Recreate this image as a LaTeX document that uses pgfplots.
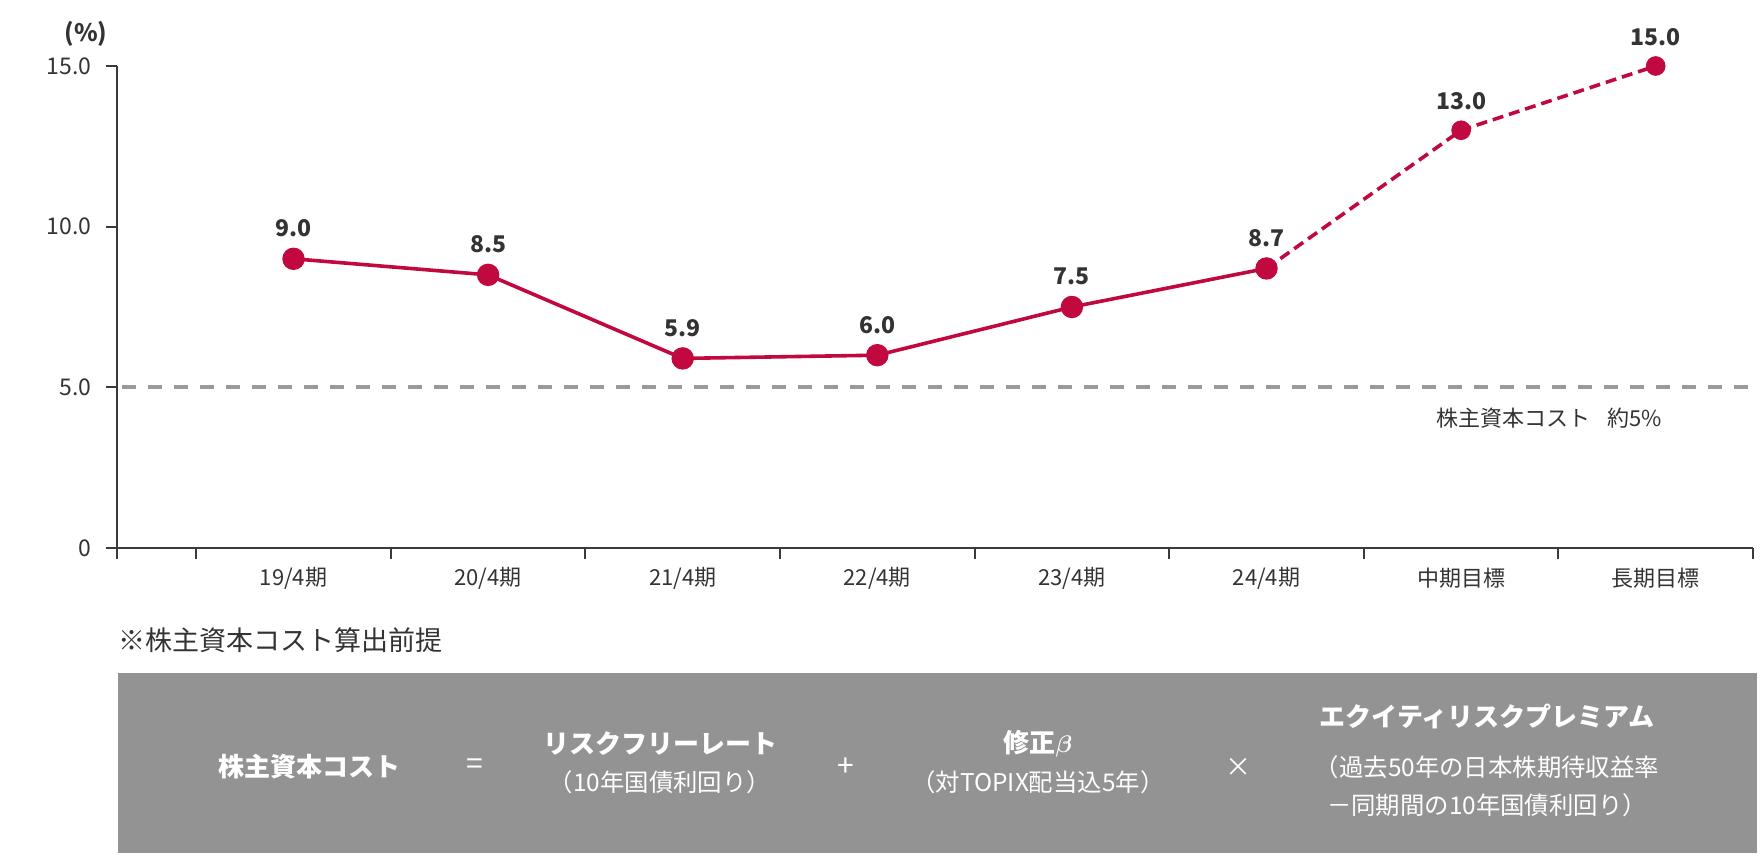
\documentclass[border=0pt]{standalone}
\usepackage{fontspec}
\setmainfont{Noto Sans CJK JP}
\usepackage{bm}
\usepackage{pgfplots}
\pgfplotsset{compat=1.18}
\definecolor{crim}{HTML}{C1093F}
\definecolor{txt}{HTML}{333333}
\definecolor{axc}{HTML}{3A3A3A}
\definecolor{refg}{HTML}{9A9A9A}
\definecolor{boxg}{HTML}{939393}
\begin{document}
\begin{tikzpicture}[x=1pt,y=1pt]
\path[use as bounding box] (0,0) rectangle (880,428);
\begin{axis}[
  at={(58.5pt,154pt)}, anchor=south west,
  scale only axis, width=818pt, height=241pt,
  xmin=-0.907, xmax=7.5, ymin=0, ymax=15,
  axis x line*=bottom, axis y line*=left,
  axis line style={draw=axc, line width=1pt},
  tick style={draw=axc, line width=1pt},
  tick align=outside, major tick length=5.5pt,
  xtick={-0.907,-0.5,0.5,1.5,2.5,3.5,4.5,5.5,6.5,7.5},
  xticklabels={},
  extra x ticks={0,1,2,3,4,5,6,7},
  extra x tick labels={19/4期,20/4期,21/4期,22/4期,23/4期,24/4期,中期目標,長期目標},
  extra x tick style={major tick length=0pt, xticklabel style={anchor=center, yshift=-15pt}},
  xticklabel style={font=\fontsize{11}{12}\selectfont, text=txt},
  ytick={0,5,10,15},
  yticklabels={0,5.0,10.0,15.0},
  yticklabel style={font=\fontsize{11.5}{12}\selectfont, text=txt, anchor=east, inner sep=0pt, xshift=-7pt},
  /pgf/number format/assume math mode=true,
  clip=false,
]
\addplot[refg, line width=2pt, dash pattern=on 7pt off 6pt] coordinates {(-0.88,5) (7.53,5)};
\addplot[crim, line width=1.8pt, dash pattern=on 5.5pt off 3pt] coordinates {(5,8.7) (6,13.0) (7,15.0)};
\addplot[crim, line width=1.8pt, mark=*, mark size=4.7pt, mark options={solid, fill=crim, draw=crim},
  point meta=explicit symbolic, nodes near coords,
  nodes near coords style={font=\bfseries\fontsize{11.5}{12}\selectfont, text=txt, anchor=south, inner sep=0pt, yshift=10pt}]
  coordinates {(0,9.0)[9.0] (1,8.5)[8.5] (2,5.9)[5.9] (3,6.0)[6.0] (4,7.5)[7.5] (5,8.7)[8.7]};
\addplot[crim, only marks, mark=*, mark size=4.7pt, mark options={solid, fill=crim, draw=crim},
  point meta=explicit symbolic, nodes near coords,
  nodes near coords style={font=\bfseries\fontsize{11.5}{12}\selectfont, text=txt, anchor=south, inner sep=0pt, yshift=10pt}]
  coordinates {(6,13.0)[13.0] (7,15.0)[15.0]};
\node[anchor=east, text=txt, font=\fontsize{11}{12}\selectfont, inner sep=0pt] at (axis cs:7.035,4.05) {株主資本コスト\hspace{0.8em}約5\%};
\end{axis}
\node[text=txt, font=\bfseries\fontsize{12}{13}\selectfont, inner sep=0pt] at (43,411) {(\%)};
\node[anchor=west, text=txt, font=\fontsize{13.5}{15}\selectfont, inner sep=0pt] at (59,108) {※株主資本コスト算出前提};
\fill[boxg] (59,1.5) rectangle (878.5,91.5);
\begin{scope}[every node/.style={text=white, inner sep=0pt}]
\node[font=\bfseries\fontsize{13}{15}\selectfont] at (154.5,44.5) {株主資本コスト};
\node[font=\fontsize{15}{17}\selectfont] at (237.5,44.5) {=};
\node[font=\bfseries\fontsize{13}{15}\selectfont] at (330,56) {リスクフリーレート};
\node[font=\fontsize{12.2}{13}\selectfont] at (330,37) {（10年国債利回り）};
\node[font=\fontsize{15}{17}\selectfont] at (423,44.5) {+};
\node[font=\bfseries\fontsize{13}{15}\selectfont] at (519,56) {修正$\bm{\beta}$};
\node[font=\fontsize{12.2}{13}\selectfont] at (519,37) {（対TOPIX配当込5年）};
\node[font=\fontsize{13}{15}\selectfont] at (619,44.5) {×};
\node[font=\bfseries\fontsize{13}{15}\selectfont] at (743.5,70) {エクイティリスクプレミアム};
\node[font=\fontsize{12.2}{13}\selectfont] at (743.5,44.5) {（過去50年の日本株期待収益率};
\node[font=\fontsize{12.2}{13}\selectfont] at (743.5,25.5) {－同期間の10年国債利回り）};
\end{scope}
\end{tikzpicture}
\end{document}
